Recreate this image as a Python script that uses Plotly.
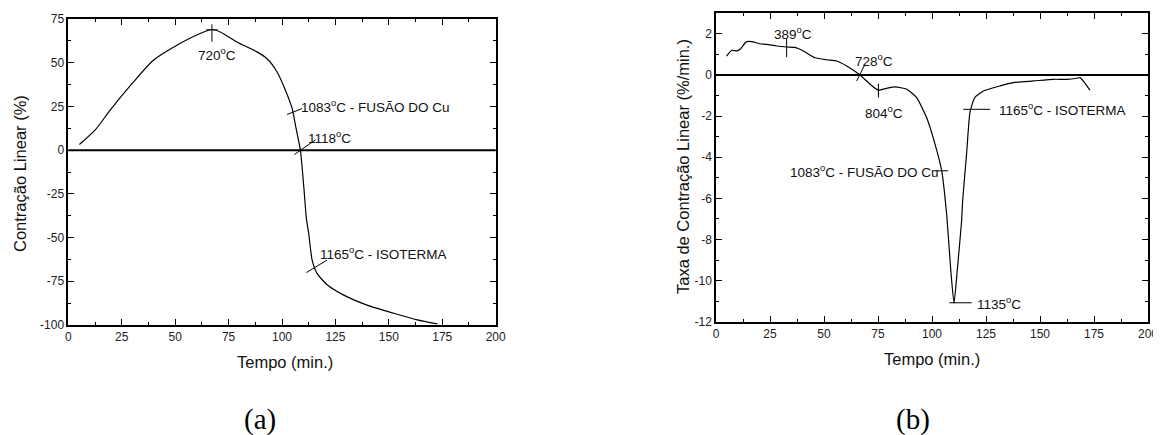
import plotly.graph_objects as go

# ---- data (a): linear contraction (%) vs time (min) ----
tempo_a = [5.2, 12.5, 19.6, 30.5, 39.8, 50.8, 61.7, 67.2, 71.1, 78.9, 88.3, 92.9,
           97.7, 101.6, 104.7, 106.5, 108.6, 110.2, 111.4, 112.5, 114.1, 116.4,
           121.1, 128.9, 139.8, 152.3, 163.3, 172.7]
contr_a = [3.2, 11.4, 22.9, 39.0, 51.4, 60.0, 66.7, 69.0, 67.6, 61.9, 56.2, 52.4,
           44.7, 34.3, 24.0, 13.0, 0.0, -21.0, -39.0, -47.6, -62.9, -70.5,
           -77.0, -82.9, -88.6, -93.3, -97.1, -99.4]

# ---- data (b): linear contraction rate (%/min) vs time (min) ----
tempo_b = [4.9, 7.3, 9.6, 11.1, 14.2, 16.5, 20.4, 23.5, 28.1, 32.7, 36.6, 40.4,
           45.8, 51.2, 55.9, 60.5, 66.7, 71.3, 75.2, 79.0, 82.9, 88.3, 92.9, 97.5,
           101.4, 104.5, 106.8, 108.7, 110.2, 111.7, 113.7, 114.2, 116.0, 117.6,
           119.8, 123.8, 131.5, 137.6, 147.0, 156.2, 162.3, 167.0, 168.5, 170.0, 173.1]
taxa_b = [0.92, 1.20, 1.17, 1.25, 1.62, 1.62, 1.52, 1.49, 1.41, 1.36, 1.34, 1.17,
          0.84, 0.74, 0.68, 0.44, 0.0, -0.45, -0.74, -0.65, -0.58, -0.69, -1.1, -2.07,
          -3.36, -4.66, -6.8, -9.5, -11.1, -9.5, -7.1, -6.1, -3.85, -1.8,
          -1.1, -0.78, -0.53, -0.37, -0.29, -0.21, -0.21, -0.16, -0.13, -0.29, -0.74]

x_ticks = [0, 25, 50, 75, 100, 125, 150, 175, 200]
y_ticks_a = [-100, -75, -50, -25, 0, 25, 50, 75]
y_ticks_b = [-12, -10, -8, -6, -4, -2, 0, 2]

# annotation labels: (text, x, y, anchor)
labels_a = [("720<sup>o</sup>C", 69.5, 55, "center"),
            ("1083<sup>o</sup>C - FUSÃO DO Cu", 108.0, 25, "left"),
            ("1118<sup>o</sup>C", 111.0, 7.6, "left"),
            ("1165<sup>o</sup>C - ISOTERMA", 116.7, -59, "left")]
marks_a = [((67.2, 67.2), (62, 72)), ((64.5, 70.0), (68.8, 68.8)),
           ((102.4, 109.4), (20.4, 23.8)), ((105.8, 115.7), (-2.5, 5.9)),
           ((111.4, 121.1), (-70, -62.9))]
labels_b = [("389<sup>o</sup>C", 35.8, 2.02, "center"),
            ("728<sup>o</sup>C", 63.6, 0.71, "left"),
            ("804<sup>o</sup>C", 77.8, -1.8, "center"),
            ("1165<sup>o</sup>C - ISOTERMA", 130.0, -1.67, "left"),
            ("1083<sup>o</sup>C - FUSÃO DO Cu", 104.0, -4.66, "right"),
            ("1135<sup>o</sup>C", 120.0, -11.08, "left")]
marks_b = [((32.7, 32.7), (0.87, 1.78)), ((65.1, 69.0), (-0.29, 0.52)),
           ((75.2, 75.2), (-0.42, -1.1)), ((114.5, 126.9), (-1.67, -1.67)),
           ((100.6, 107.5), (-4.66, -4.66)), ((108.0, 118.4), (-11.08, -11.08))]

FONT = "Arial, Liberation Sans, sans-serif"
W, H = 1161, 435
OFF = 8  # page body margin offset


def px(sx):
    return (sx - OFF) / W


def py(sy):
    return 1 - (sy - OFF) / H


fig = go.Figure()
fig.add_trace(go.Scatter(x=tempo_a, y=contr_a, mode="lines", line=dict(color="black", width=1.2, shape="spline", smoothing=0.6),
                         xaxis="x", yaxis="y", showlegend=False))
fig.add_trace(go.Scatter(x=tempo_b, y=taxa_b, mode="lines", line=dict(color="black", width=1.2, shape="spline", smoothing=0.5),
                         xaxis="x2", yaxis="y2", showlegend=False))


def xax(dom):
    return dict(domain=dom, range=[0, 200], tickvals=x_ticks, ticktext=[str(v) for v in x_ticks],
                ticks="inside", ticklen=6, tickwidth=1.2,
                showline=True, linecolor="black", linewidth=1.5, mirror="ticks", showgrid=False, zeroline=False,
                automargin=False,
                minor=dict(dtick=12.5, tick0=0, ticks="inside", ticklen=3, tickwidth=1, tickcolor="black"),
                tickcolor="black", tickfont=dict(family=FONT, size=12, color="#222"))


def yax(dom, rng, vals, minor_dt, anchor):
    return dict(domain=dom, range=rng, tickvals=vals, ticktext=[str(v) for v in vals],
                ticks="inside", ticklen=6, tickwidth=1.2,
                showline=True, linecolor="black", linewidth=1.5, mirror="ticks", showgrid=False, zeroline=False,
                automargin=False,
                minor=dict(dtick=minor_dt, tick0=0, ticks="inside", ticklen=3, tickwidth=1, tickcolor="black"),
                tickcolor="black", tickfont=dict(family=FONT, size=12, color="#222"), anchor=anchor)


dxa = [px(68.3), px(495.7)]
dya = [py(325), py(19)]
dxb = [px(716), px(1148)]
dyb = [py(321.7), py(13.3)]

fig.update_layout(
    width=W, height=H, margin=dict(l=0, r=0, t=0, b=0, autoexpand=False),
    paper_bgcolor="white", plot_bgcolor="white",
    xaxis=dict(**xax(dxa), anchor="y"),
    yaxis=yax(dya, [-100, 75], y_ticks_a, 12.5, "x"),
    xaxis2=dict(**xax(dxb), anchor="y2"),
    yaxis2=yax(dyb, [-12, 3], y_ticks_b, 1, "x2"),
)

shapes = []
for xr, yr, pts in (("x", "y", marks_a), ("x2", "y2", marks_b)):
    shapes.append(dict(type="line", xref=xr, yref=yr, x0=0, x1=200, y0=0, y1=0,
                       line=dict(color="black", width=2)))
    for (xs, ys) in pts:
        shapes.append(dict(type="line", xref=xr, yref=yr, x0=xs[0], x1=xs[1], y0=ys[0], y1=ys[1],
                           line=dict(color="black", width=1)))

ann = []
for xr, yr, labs in (("x", "y", labels_a), ("x2", "y2", labels_b)):
    for t, x, y, a in labs:
        ann.append(dict(text=t, x=x, y=y, xref=xr, yref=yr, xanchor=a, yanchor="middle", showarrow=False,
                        font=dict(family=FONT, size=13.5, color="#111")))

TF = dict(family=FONT, size=16.5, color="#111")
SERIF = dict(family="Liberation Serif, Times New Roman, serif", size=29, color="black")
ann += [
    dict(text="Tempo (min.)", x=px(285), y=py(362), xref="paper", yref="paper", showarrow=False,
         xanchor="center", yanchor="middle", font=TF),
    dict(text="Tempo (min.)", x=px(932), y=py(359), xref="paper", yref="paper", showarrow=False,
         xanchor="center", yanchor="middle", font=TF),
    dict(text="Contração Linear (%)", x=px(20), y=py(174), xref="paper", yref="paper", showarrow=False,
         textangle=-90, xanchor="center", yanchor="middle", font=TF),
    dict(text="Taxa de Contração Linear (%/min.)", x=px(683), y=py(167), xref="paper", yref="paper",
         showarrow=False, textangle=-90, xanchor="center", yanchor="middle", font=TF),
    dict(text="(a)", x=px(260), y=py(419), xref="paper", yref="paper", showarrow=False,
         xanchor="center", yanchor="middle", font=SERIF),
    dict(text="(b)", x=px(913), y=py(419), xref="paper", yref="paper", showarrow=False,
         xanchor="center", yanchor="middle", font=SERIF),
]

fig.update_layout(shapes=shapes, annotations=ann)
fig.write_html("out.html")
